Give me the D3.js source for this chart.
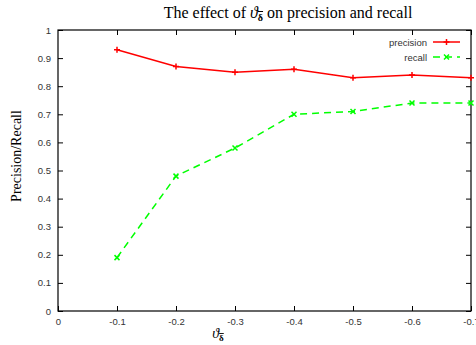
<!DOCTYPE html>
<html>
<head>
<meta charset="utf-8">
<script src="https://cdn.jsdelivr.net/npm/d3@7"></script>
<style>
  body { margin: 0; background: #fff; }
  svg { display: block; }
  .tick text { font-family: "Liberation Sans", Arial, sans-serif; font-size: 9.5px; fill: #333; }
</style>
</head>
<body>
<svg></svg>
<script>
const thresholds = [-0.1, -0.2, -0.3, -0.4, -0.5, -0.6, -0.7];
const precision = [0.93, 0.87, 0.85, 0.86, 0.83, 0.84, 0.83];
const recall = [0.19, 0.48, 0.58, 0.70, 0.71, 0.74, 0.74];
const xTicks = [0, -0.1, -0.2, -0.3, -0.4, -0.5, -0.6, -0.7];
const yTicks = [0, 0.1, 0.2, 0.3, 0.4, 0.5, 0.6, 0.7, 0.8, 0.9, 1];

const size = {w: 476, h: 345};
const margin = {t: 30, r: 5, b: 34, l: 58};
const svg = d3.select('svg').attr('width', size.w).attr('height', size.h);

const x = d3.scaleLinear().domain([0, -0.7]).range([margin.l, 471]);
const y = d3.scaleLinear().domain([0, 1]).range([311, margin.t]);

const fmt = d => d === 0 ? '0' : String(d);

// axes, ticks point inward like gnuplot
svg.append('g')
    .attr('transform', `translate(0,${y(0)})`)
    .call(d3.axisBottom(x).tickValues(xTicks).tickFormat(fmt).tickSizeInner(-5).tickSizeOuter(0).tickPadding(7))
    .call(g => g.select('.domain').remove());
svg.append('g')
    .attr('transform', `translate(0,${y(1)})`)
    .call(d3.axisTop(x).tickValues(xTicks.slice(1)).tickFormat('').tickSizeInner(-5).tickSizeOuter(0))
    .call(g => g.select('.domain').remove());
svg.append('g')
    .attr('transform', `translate(${x(0)},0)`)
    .call(d3.axisLeft(y).tickValues(yTicks).tickFormat(fmt).tickSizeInner(-5).tickSizeOuter(0).tickPadding(7))
    .call(g => g.select('.domain').remove());
svg.append('g')
    .attr('transform', `translate(${x(-0.7)},0)`)
    .call(d3.axisRight(y).tickValues(yTicks).tickFormat('').tickSizeInner(-5).tickSizeOuter(0))
    .call(g => g.select('.domain').remove());

svg.selectAll('.tick line').attr('stroke', '#000');

svg.append('rect')
    .attr('x', x(0)).attr('y', y(1))
    .attr('width', x(-0.7) - x(0)).attr('height', y(0) - y(1))
    .attr('fill', 'none').attr('stroke', '#000').attr('stroke-width', 1.2);

const line = d3.line().x(d => x(d[0])).y(d => y(d[1]));

function plus(g, cx, cy, color) {
    g.append('path').attr('d', `M${cx - 3},${cy}H${cx + 3}M${cx},${cy - 3}V${cy + 3}`)
        .attr('stroke', color).attr('stroke-width', 1.5);
}
function cross(g, cx, cy, color) {
    g.append('path').attr('d', `M${cx - 2.5},${cy - 2.5}L${cx + 2.5},${cy + 2.5}M${cx - 2.5},${cy + 2.5}L${cx + 2.5},${cy - 2.5}`)
        .attr('stroke', color).attr('stroke-width', 1.5);
}

const pG = svg.append('g');
pG.append('path')
    .datum(d3.zip(thresholds, precision))
    .attr('d', line).attr('fill', 'none').attr('stroke', '#ff0000').attr('stroke-width', 1.5);
thresholds.forEach((t, i) => plus(pG, x(t), y(precision[i]), '#ff0000'));

const rG = svg.append('g');
rG.append('path')
    .datum(d3.zip(thresholds, recall))
    .attr('d', line).attr('fill', 'none').attr('stroke', '#00ff00').attr('stroke-width', 1.5)
    .attr('stroke-dasharray', '7,5');
thresholds.forEach((t, i) => cross(rG, x(t), y(recall[i]), '#00ff00'));

// legend
const legend = [
    {name: 'precision', color: '#ff0000', dash: null, mark: plus, yy: 42},
    {name: 'recall', color: '#00ff00', dash: '7,5', mark: cross, yy: 57}
];
legend.forEach(l => {
    svg.append('text').attr('x', 427).attr('y', l.yy + 3.5)
        .attr('text-anchor', 'end')
        .style('font-family', '"Liberation Sans", Arial, sans-serif').style('font-size', '9.5px').attr('fill', '#333')
        .text(l.name);
    svg.append('line').attr('x1', 433).attr('x2', 460).attr('y1', l.yy).attr('y2', l.yy)
        .attr('stroke', l.color).attr('stroke-width', 1.5).attr('stroke-dasharray', l.dash);
    l.mark(svg, 446.5, l.yy, l.color);
});

// theta with a bold, barred delta subscript
function thetaSub(t, subSize) {
    t.append('tspan').style('font-style', 'italic').text('ϑ');
    t.append('tspan').attr('dy', 3).style('font-size', subSize).style('font-weight', 'bold')
        .style('text-decoration', 'overline').text('δ');
}

// title
const title = svg.append('text').attr('x', 288).attr('y', 18).attr('text-anchor', 'middle')
    .style('font-family', '"Liberation Serif", "Times New Roman", serif').style('font-size', '16px');
title.append('tspan').text('The effect of ');
thetaSub(title, '10px');
title.append('tspan').attr('dy', -3).text(' on precision and recall');

// axis labels
svg.append('text')
    .attr('transform', `translate(21,156) rotate(-90)`)
    .attr('text-anchor', 'middle')
    .style('font-family', '"Liberation Serif", "Times New Roman", serif').style('font-size', '14px')
    .text('Precision/Recall');

const xl = svg.append('text').attr('x', 218).attr('y', 338).attr('text-anchor', 'middle')
    .style('font-family', '"Liberation Serif", "Times New Roman", serif').style('font-size', '14px');
thetaSub(xl, '9px');
</script>
</body>
</html>
